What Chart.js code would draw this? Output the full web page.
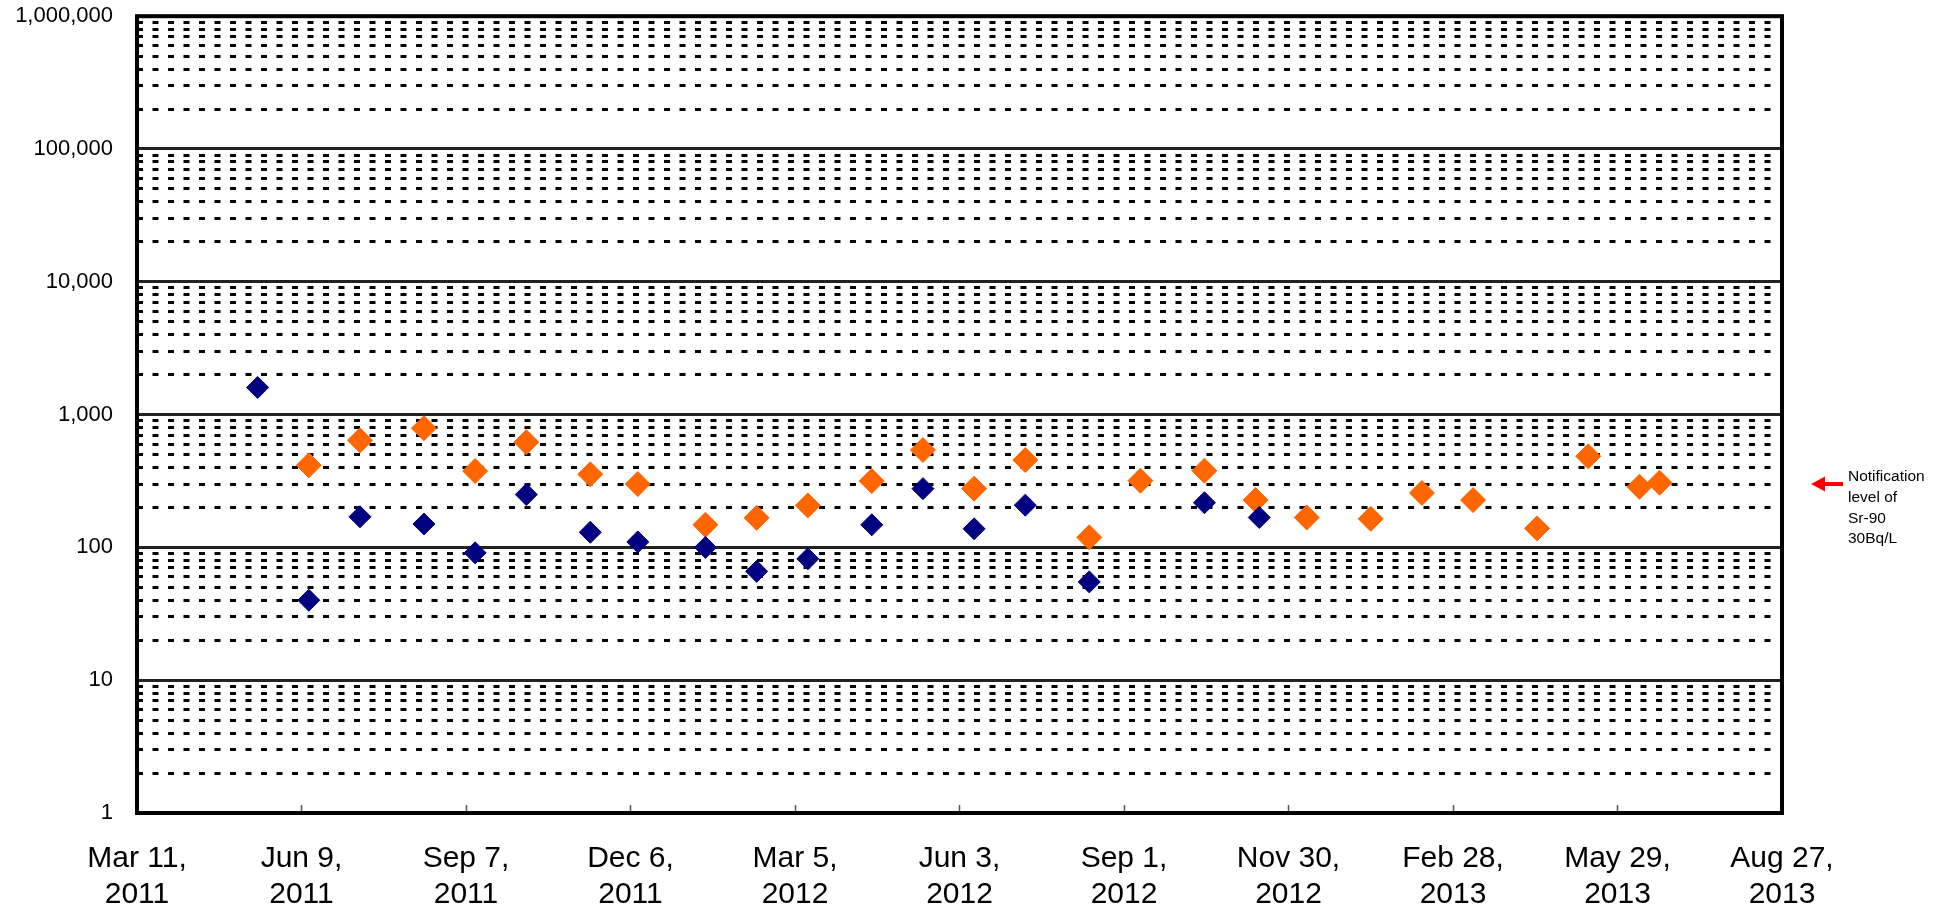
<!DOCTYPE html>
<html>
<head>
<meta charset="utf-8">
<script src="https://cdn.jsdelivr.net/npm/chart.js@4.4.1/dist/chart.umd.min.js"></script>
<style>
  html, body { margin: 0; padding: 0; background: #fff; }
  #wrap { width: 1946px; height: 912px; position: relative; }
</style>
</head>
<body>
<div id="wrap"><canvas id="srChart"></canvas></div>
<script>
// x axis runs in days counted from the first tick date
const startDate = "2011-03-11";
const xTickDays = [0, 90, 180, 270, 360, 450, 540, 630, 720, 810, 900];
const xTickLabels = [
  ["Mar 11,", "2011"], ["Jun 9,", "2011"], ["Sep 7,", "2011"], ["Dec 6,", "2011"],
  ["Mar 5,", "2012"], ["Jun 3,", "2012"], ["Sep 1,", "2012"], ["Nov 30,", "2012"],
  ["Feb 28,", "2013"], ["May 29,", "2013"], ["Aug 27,", "2013"],
];

const yMajorTicks = [1, 10, 100, 1000, 10000, 100000, 1000000];
const yMinorSteps = [2, 3, 4, 5, 6, 7, 8, 9];

const navyDates = [
  "2011-05-16", "2011-06-13", "2011-07-11", "2011-08-15", "2011-09-12", "2011-10-10",
  "2011-11-14", "2011-12-10", "2012-01-16", "2012-02-13", "2012-03-12", "2012-04-16",
  "2012-05-14", "2012-06-11", "2012-07-09", "2012-08-13", "2012-10-15", "2012-11-14",
];
const navyValues = [1600, 40, 170, 150, 91, 250, 130, 110, 100, 66, 82, 148, 277, 138, 208, 55, 217, 168];

const orangeDates = [
  "2011-06-13", "2011-07-11", "2011-08-15", "2011-09-12", "2011-10-10", "2011-11-14",
  "2011-12-10", "2012-01-16", "2012-02-13", "2012-03-12", "2012-04-16", "2012-05-14",
  "2012-06-11", "2012-07-09", "2012-08-13", "2012-09-10", "2012-10-15", "2012-11-12",
  "2012-12-10", "2013-01-14", "2013-02-11", "2013-03-11", "2013-04-15", "2013-05-13",
  "2013-06-10", "2013-06-21",
];
const orangeValues = [415, 640, 790, 376, 620, 355, 300, 148, 167, 207, 316, 541, 277, 455, 119, 318, 378, 227, 168, 164, 257, 227, 139, 485, 286, 307];

const notificationLevel = 300;
const noteLines = ["Notification", "level of", "Sr-90", "30Bq/L"];

const FONT = '"Liberation Sans", Arial, sans-serif';
Chart.defaults.font.family = FONT;
Chart.defaults.color = "#000";

const dayOf = (s) => (Date.parse(s) - Date.parse(startDate)) / 86400000;
const toPoints = (dates, values) => dates.map((d, i) => ({ x: dayOf(d), y: values[i] }));

const yMinorTicks = [];
yMajorTicks.slice(0, -1).forEach((m) => yMinorSteps.forEach((k) => yMinorTicks.push(m * k)));

const framePlugin = {
  id: "frame",
  beforeDatasetsDraw(chart) {
    const { ctx, chartArea: a } = chart;
    ctx.save();
    ctx.lineWidth = 4;
    ctx.strokeStyle = "#000";
    ctx.strokeRect(a.left, a.top, a.right - a.left, a.bottom - a.top);
    ctx.restore();
  },
  afterDraw(chart) {
    const { ctx, chartArea: a } = chart;
    const y = chart.scales.y.getPixelForValue(notificationLevel);
    const tip = a.right + 29;
    ctx.save();
    ctx.fillStyle = "#ff0000";
    ctx.beginPath();
    ctx.moveTo(tip, y);
    ctx.lineTo(tip + 14, y - 7.5);
    ctx.lineTo(tip + 14, y + 7.5);
    ctx.closePath();
    ctx.fill();
    ctx.fillRect(tip + 12, y - 2, 20, 4);
    ctx.fillStyle = "#000";
    ctx.font = "15.5px " + FONT;
    ctx.textBaseline = "alphabetic";
    noteLines.forEach((t, i) => ctx.fillText(t, a.right + 66, y - 3 + i * 20.8));
    ctx.restore();
  },
};

new Chart(document.getElementById("srChart"), {
  type: "scatter",
  data: {
    datasets: [
      {
        label: "Series A",
        data: toPoints(navyDates, navyValues),
        yAxisID: "y",
        pointStyle: "rectRot",
        pointRadius: 11,
        backgroundColor: "#000080",
        borderColor: "#000080",
        borderWidth: 1,
      },
      {
        label: "Series B",
        data: toPoints(orangeDates, orangeValues),
        yAxisID: "y",
        pointStyle: "rectRot",
        pointRadius: 12.5,
        backgroundColor: "#ff6600",
        borderColor: "#ff6600",
        borderWidth: 1,
      },
    ],
  },
  options: {
    responsive: true,
    maintainAspectRatio: false,
    animation: false,
    events: [],
    layout: { padding: { left: 0, top: 16, right: 164, bottom: 0 } },
    plugins: {
      legend: { display: false },
      tooltip: { enabled: false },
    },
    scales: {
      x: {
        type: "linear",
        min: 0,
        max: 900,
        afterBuildTicks: (s) => { s.ticks = xTickDays.map((v) => ({ value: v })); },
        afterFit: (s) => { s.height = 99; },
        grid: { drawOnChartArea: false, drawTicks: true, tickLength: -8, tickColor: "#555", tickWidth: 1.5 },
        border: { display: false },
        ticks: {
          padding: 36,
          font: { size: 30 },
          maxRotation: 0,
          autoSkip: false,
          callback: (v, i) => xTickLabels[i],
        },
      },
      y: {
        type: "logarithmic",
        position: "left",
        min: 1,
        max: 1000000,
        afterBuildTicks: (s) => { s.ticks = yMajorTicks.map((v) => ({ value: v })); },
        afterFit: (s) => { s.width = 137; },
        grid: { color: "#222", lineWidth: 3, drawTicks: true, tickLength: 21, tickColor: "rgba(0,0,0,0)" },
        border: { display: false },
        ticks: {
          padding: 3,
          font: { size: 22 },
          autoSkip: false,
          callback: (v) => Number(v).toLocaleString("en-US"),
        },
      },
      yMinor: {
        type: "logarithmic",
        position: "left",
        min: 1,
        max: 1000000,
        afterBuildTicks: (s) => { s.ticks = yMinorTicks.map((v) => ({ value: v })); },
        afterFit: (s) => { s.width = 0; },
        grid: { color: "#000", lineWidth: 3, drawTicks: false },
        border: { display: false, dash: [6, 9.5] },
        ticks: { display: false, autoSkip: false },
      },
    },
  },
  plugins: [framePlugin],
});
</script>
</body>
</html>
